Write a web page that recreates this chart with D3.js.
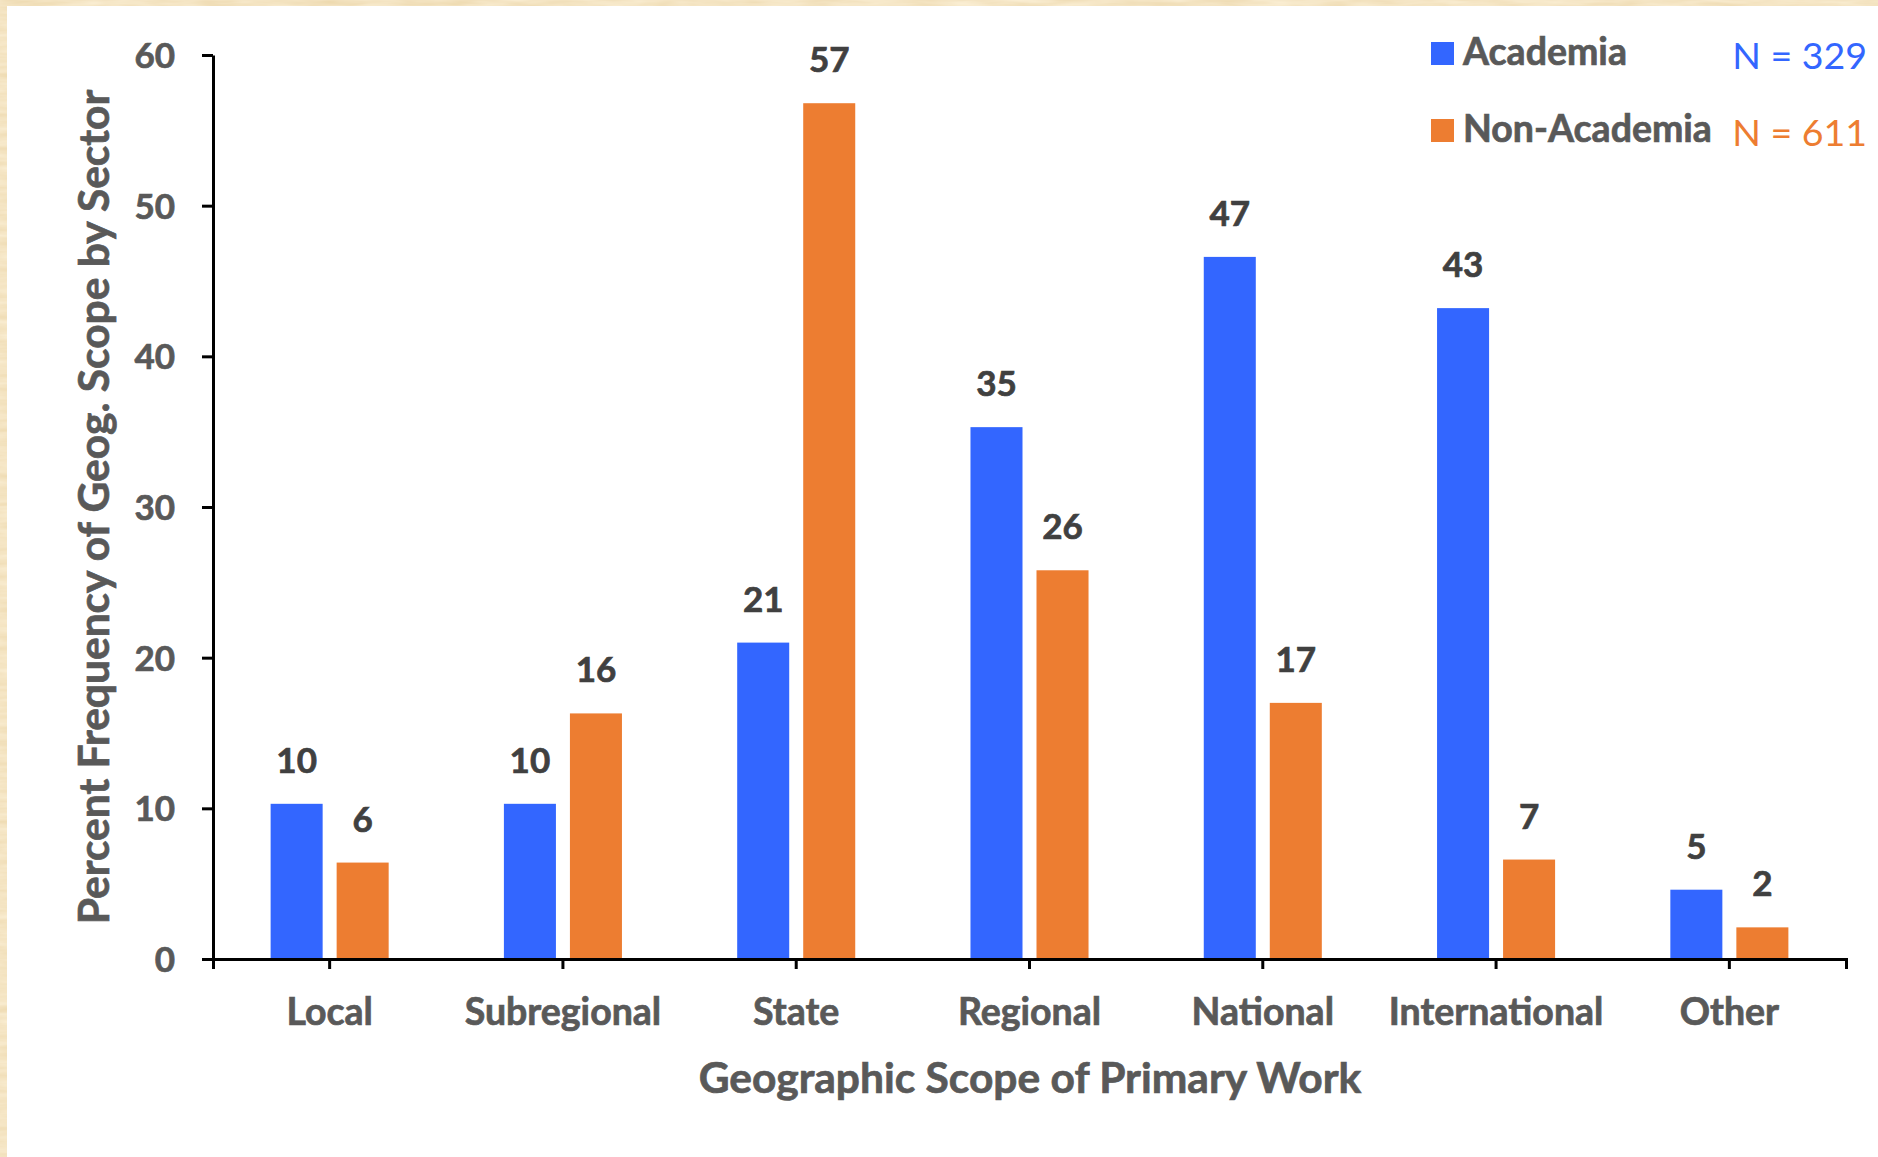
<!DOCTYPE html>
<html>
<head>
<meta charset="utf-8">
<script src="https://cdn.jsdelivr.net/npm/d3@7"></script>
<style>
  html, body { margin: 0; padding: 0; background: #efdcb2; }
  svg { display: block; }
  text { font-family: Lato, "Open Sans", sans-serif; }
  .heavy { paint-order: stroke; stroke-width: 0.7px; }
</style>
</head>
<body>
<svg id="chart" width="1878" height="1157"></svg>
<script>
// Geographic scope of primary work, percent by sector
const categories = ["Local", "Subregional", "State", "Regional", "National", "International", "Other"];
const seriesNames = ["Academia", "Non-Academia"];
const academia = [10.3, 10.3, 21.0, 35.3, 46.6, 43.2, 4.6];
const nonAcademia = [6.4, 16.3, 56.8, 25.8, 17.0, 6.6, 2.1];
const sampleSizes = ["N = 329", "N = 611"];
const yTicks = [0, 10, 20, 30, 40, 50, 60];

const colors = { "Academia": "#3366ff", "Non-Academia": "#ed7d31" };

const W = 1878, H = 1157;
const svg = d3.select("#chart");

// parchment backdrop with a white card on top
const defs = svg.append("defs");
const f = defs.append("filter").attr("id", "paper").attr("x", 0).attr("y", 0).attr("width", 1).attr("height", 1);
f.append("feTurbulence").attr("type", "fractalNoise").attr("baseFrequency", "0.02 0.15").attr("numOctaves", 3).attr("seed", 4).attr("result", "noise");
f.append("feColorMatrix").attr("in", "noise").attr("type", "matrix")
  .attr("values", "0 0 0 0 0.99  0 0 0 0 0.90  0 0 0 0 0.72  0 0 0 0.9 0").attr("result", "tint");
f.append("feComposite").attr("in", "tint").attr("in2", "SourceGraphic").attr("operator", "over");
svg.append("rect").attr("width", W).attr("height", H).attr("fill", "#ecd7aa").attr("filter", "url(#paper)");
svg.append("rect").attr("x", 7).attr("y", 6).attr("width", W - 7).attr("height", H - 6).attr("fill", "#ffffff");

const rows = categories.map((c, i) => ({ category: c, values: [
  { series: "Academia", value: academia[i] },
  { series: "Non-Academia", value: nonAcademia[i] }
]}));

const x0 = d3.scaleBand().domain(categories).range([213, 1846]).paddingInner(0.434).paddingOuter(0.217);
const x1 = d3.scaleBand().domain(seriesNames).range([0, x0.bandwidth()]).paddingInner(0.212).paddingOuter(0.106);
const y = d3.scaleLinear().domain([0, 60]).range([959, 55]);

// bars
const groups = svg.append("g").selectAll("g").data(rows).join("g")
  .attr("transform", d => `translate(${x0(d.category)},0)`);
groups.selectAll("rect").data(d => d.values).join("rect")
  .attr("x", d => x1(d.series))
  .attr("y", d => y(d.value))
  .attr("width", x1.bandwidth())
  .attr("height", d => y(0) - y(d.value))
  .attr("fill", d => colors[d.series]);

// value labels
const fmt = d3.format(".0f");
groups.selectAll("text.val").data(d => d.values).join("text")
  .attr("class", "val heavy")
  .attr("x", d => x1(d.series) + x1.bandwidth() / 2)
  .attr("y", d => y(d.value) - 31)
  .attr("text-anchor", "middle")
  .attr("font-size", 35)
  .attr("font-weight", 700)
  .attr("fill", "#404040").attr("stroke", "#404040")
  .text(d => fmt(d.value));

// y axis
const yAxis = svg.append("g").attr("transform", "translate(213,0)")
  .call(d3.axisLeft(y).tickValues(yTicks).tickSize(11).tickSizeOuter(0).tickPadding(27));
yAxis.selectAll("path, line").attr("stroke", "#000").attr("stroke-width", 3);
yAxis.selectAll("text").attr("class", "heavy").attr("font-size", 35).attr("font-weight", 700)
  .attr("fill", "#595959").attr("stroke", "#595959")
  .attr("font-family", "Lato, sans-serif").attr("dy", "0.36em");

// x axis
const xAxis = svg.append("g").attr("transform", "translate(0,959)")
  .call(d3.axisBottom(x0).tickSize(10).tickSizeOuter(10).tickPadding(30));
xAxis.selectAll("path, line").attr("stroke", "#000").attr("stroke-width", 3);
xAxis.selectAll("text").attr("class", "heavy").attr("font-size", 37.5).attr("font-weight", 700)
  .attr("fill", "#595959").attr("stroke", "#595959")
  .attr("font-family", "Lato, sans-serif").attr("y", 66).attr("dy", 0);

// axis titles
svg.append("text")
  .attr("class", "heavy")
  .attr("x", 1030).attr("y", 1093)
  .attr("text-anchor", "middle")
  .attr("font-size", 42.5).attr("font-weight", 700).attr("fill", "#595959").attr("stroke", "#595959")
  .text("Geographic Scope of Primary Work");

svg.append("text")
  .attr("class", "heavy")
  .attr("transform", "translate(109,507) rotate(-90)")
  .attr("text-anchor", "middle")
  .attr("font-size", 42.5).attr("font-weight", 700).attr("fill", "#595959").attr("stroke", "#595959")
  .text("Percent Frequency of Geog. Scope by Sector");

// legend with sample sizes
const legend = svg.append("g").selectAll("g").data(seriesNames).join("g")
  .attr("transform", (d, i) => `translate(1431,${42 + i * 77})`);
legend.append("rect").attr("width", 23).attr("height", 23).attr("fill", d => colors[d]);
legend.append("text").attr("class", "heavy").attr("x", 32).attr("y", 23)
  .attr("font-size", 37.5).attr("font-weight", 700).attr("fill", "#595959").attr("stroke", "#595959")
  .text(d => d);
legend.append("text").attr("x", 436).attr("y", 27).attr("text-anchor", "end")
  .attr("font-size", 37.5).attr("font-weight", 400)
  .attr("fill", d => colors[d])
  .text((d, i) => sampleSizes[i]);
</script>
</body>
</html>
